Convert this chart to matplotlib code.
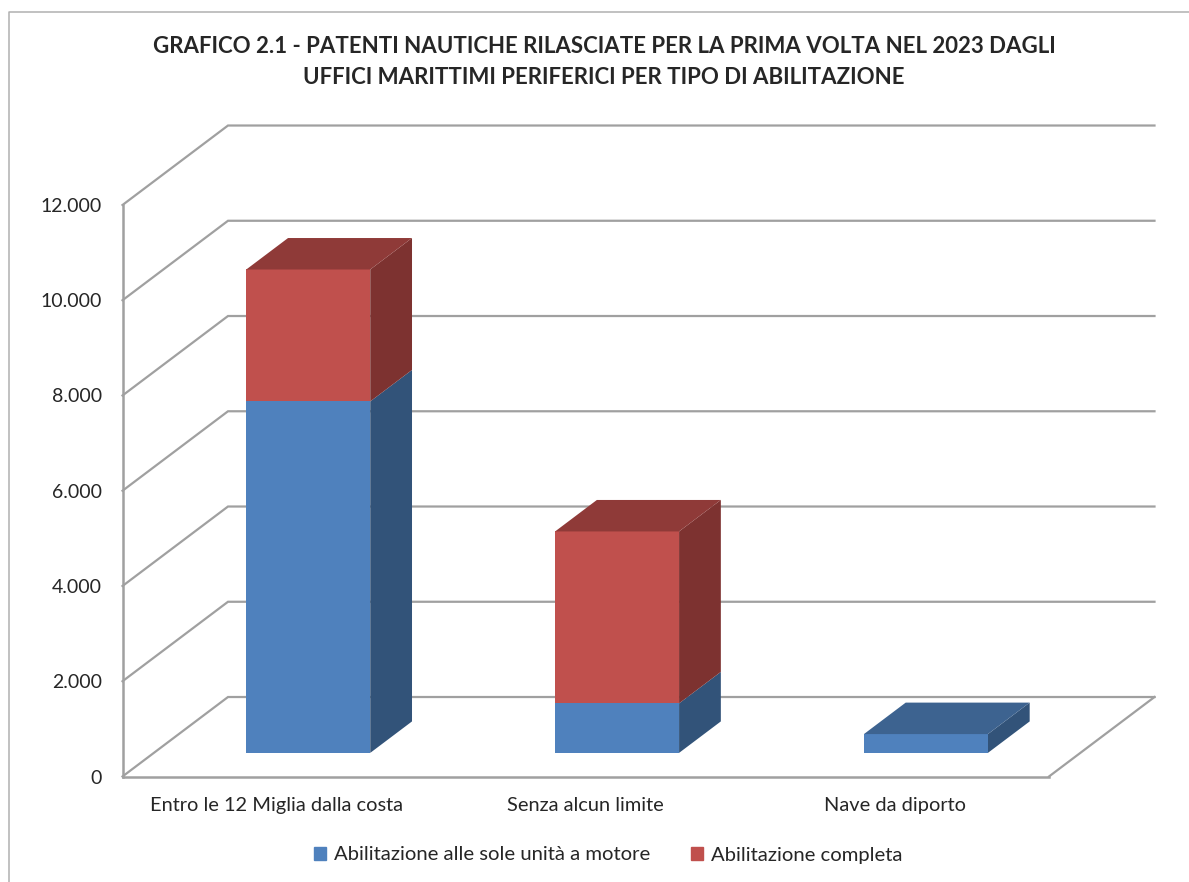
import matplotlib
matplotlib.use('Agg')

import matplotlib.pyplot as plt
from matplotlib.lines import Line2D
from matplotlib.patches import Patch, Polygon

categories = ['Entro le 12 Miglia dalla costa', 'Senza alcun limite', 'Nave da diporto']
motore = [7380, 1040, 395]
completa = [2770, 3610, 0]
yticks = [0, 2000, 4000, 6000, 8000, 10000, 12000]
ytick_labels = ['0', '2.000', '4.000', '6.000', '8.000', '10.000', '12.000']
series_names = ['Abilitazione alle sole unità a motore', 'Abilitazione completa']
title = ('GRAFICO 2.1 - PATENTI NAUTICHE RILASCIATE PER LA PRIMA VOLTA NEL 2023 DAGLI\n'
         'UFFICI MARITTIMI PERIFERICI PER TIPO DI ABILITAZIONE')

W, H = 1189, 882
GRID = '#a0a0a0'
TEXT = '#262626'
BLUE = ('#4f81bd', '#325379', '#3d6390')
RED = ('#c0504d', '#7d3230', '#8f3a38')

# oblique depth of the fake 3d box, in data units
DX = 0.3416
DY = 1669
BAR_HALF = 0.2007
D_FRONT = 0.297
D_BACK = 0.693

plt.rcParams['font.family'] = ['Lato', 'DejaVu Sans']

fig = plt.figure(figsize=(W / 100, H / 100), dpi=100)
ax = fig.add_axes([122.5 / W, 1 - 776.5 / H, (1049 - 122.5) / W, (776.5 - 205) / H])
ax.set_xlim(0, 3)
ax.set_ylim(0, 12000)
ax.patch.set_alpha(0)


def proj(x, v, d):
    return (x + DX * d, v + DY * d)


def poly(points, color, z):
    ax.add_patch(Polygon(points, closed=True, facecolor=color, edgecolor='none',
                         clip_on=False, zorder=z))


def block(cx, v0, v1, colors, z):
    l, r = cx - BAR_HALF, cx + BAR_HALF
    # side
    poly([proj(r, v0, D_FRONT), proj(r, v0, D_BACK), proj(r, v1, D_BACK), proj(r, v1, D_FRONT)], colors[1], z)
    # front
    poly([proj(l, v0, D_FRONT), proj(r, v0, D_FRONT), proj(r, v1, D_FRONT), proj(l, v1, D_FRONT)], colors[0], z)


def top(cx, v, colors, z):
    l, r = cx - BAR_HALF, cx + BAR_HALF
    poly([proj(l, v, D_FRONT), proj(r, v, D_FRONT), proj(r, v, D_BACK), proj(l, v, D_BACK)], colors[2], z)


# gridlines on the side wall and back wall
for v in yticks:
    ax.plot([0, DX, 3 + DX], [v, v + DY, v + DY], color=GRID, lw=1.6, clip_on=False,
            zorder=2, solid_joinstyle='miter')
# floor, right edge
ax.plot([3, 3 + DX], [0, DY], color=GRID, lw=1.6, clip_on=False, zorder=2)

for i in range(len(categories)):
    cx = i + 0.5
    block(cx, 0, motore[i], BLUE, 3)
    total = motore[i] + completa[i]
    if completa[i] > 0:
        block(cx, motore[i], total, RED, 3)
        top(cx, total, RED, 3)
    else:
        top(cx, total, BLUE, 3)

for name in ['top', 'right']:
    ax.spines[name].set_visible(False)
for name in ['left', 'bottom']:
    ax.spines[name].set_color(GRID)
    ax.spines[name].set_linewidth(1.8)

ax.set_xticks([i + 0.5 for i in range(len(categories))])
ax.set_xticklabels(categories)
ax.set_yticks(yticks)
ax.set_yticklabels(ytick_labels)
ax.tick_params(axis='x', length=0, pad=15, labelsize=14.4, colors=TEXT)
ax.tick_params(axis='y', length=0, pad=15, labelsize=14, colors=TEXT)

fig.text(604 / W, 1 - 62 / H, title, ha='center', va='center', fontsize=16,
         fontweight='bold', color=TEXT, linespacing=1.6)

handles = [Patch(color=BLUE[0]), Patch(color=RED[0])]
fig.legend(handles, series_names, loc='center', bbox_to_anchor=(608 / W, 1 - 855 / H),
           ncol=2, frameon=False, fontsize=14.6, labelcolor=TEXT, handlelength=0.6,
           handleheight=0.6, handletextpad=0.4, columnspacing=2.0)

# chart frame, cut by the page at the right and bottom
fig.add_artist(Line2D([8.5 / W, 8.5 / W, 1], [0, 1 - 12 / H, 1 - 12 / H], color='#b0b0b0', lw=1.1))

fig.savefig('out.png', dpi=100)
